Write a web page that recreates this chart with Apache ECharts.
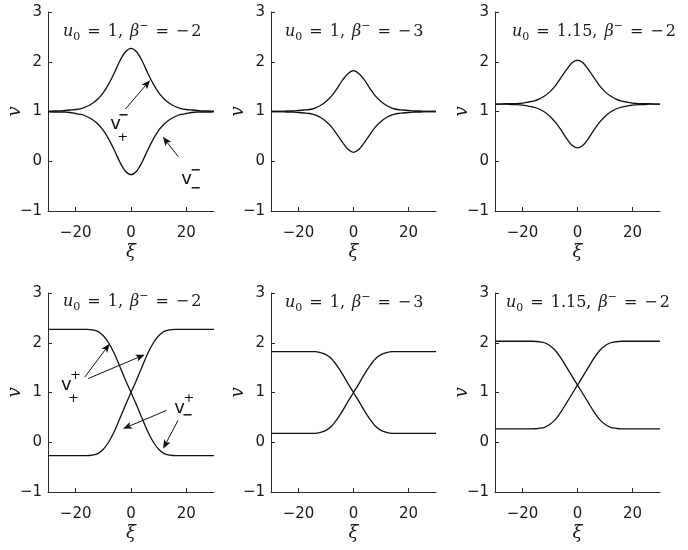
<!DOCTYPE html>
<html>
<head>
<meta charset="utf-8">
<script src="https://cdn.jsdelivr.net/npm/echarts@6/dist/echarts.min.js"></script>
<style>
  html, body { margin: 0; padding: 0; background: #ffffff; }
  #chart { width: 688px; height: 550px; }
</style>
</head>
<body>
<div id="chart"></div>
<script>
// Travelling coordinate ξ, sampled every 2 units
const xi = [-30,-28,-26,-24,-22,-20,-18,-16,-14,-12,-10,-8,-6,-4,-2,0,2,4,6,8,10,12,14,16,18,20,22,24,26,28,30];

// Top row: solitary bumps v+^- (upper) and v-^- (lower)
const bumpUpperA = [1.00,1.01,1.01,1.02,1.03,1.04,1.06,1.10,1.16,1.25,1.38,1.56,1.78,2.02,2.20,2.27,2.20,2.02,1.78,1.56,1.38,1.25,1.16,1.10,1.06,1.04,1.03,1.02,1.01,1.01,1.00];
const bumpLowerA = [1.00,0.99,0.99,0.99,0.98,0.96,0.94,0.90,0.84,0.75,0.62,0.44,0.22,-0.02,-0.20,-0.27,-0.20,-0.02,0.22,0.44,0.62,0.75,0.84,0.90,0.94,0.96,0.98,0.99,0.99,0.99,1.00];
const bumpUpperB = [1.00,1.00,1.00,1.01,1.01,1.02,1.03,1.04,1.07,1.12,1.20,1.31,1.46,1.63,1.76,1.82,1.76,1.63,1.46,1.31,1.20,1.12,1.07,1.04,1.03,1.02,1.01,1.01,1.00,1.00,1.00];
const bumpLowerB = [1.00,1.00,1.00,0.99,0.99,0.98,0.97,0.96,0.93,0.88,0.80,0.69,0.54,0.38,0.24,0.18,0.24,0.38,0.54,0.69,0.80,0.88,0.93,0.96,0.97,0.98,0.99,0.99,1.00,1.00,1.00];
const bumpUpperC = [1.15,1.15,1.16,1.16,1.16,1.17,1.19,1.21,1.25,1.31,1.40,1.52,1.68,1.84,1.98,2.03,1.98,1.84,1.68,1.52,1.40,1.31,1.25,1.21,1.19,1.17,1.16,1.16,1.16,1.15,1.15];
const bumpLowerC = [1.15,1.15,1.15,1.14,1.14,1.13,1.11,1.09,1.05,0.99,0.90,0.78,0.63,0.46,0.32,0.27,0.32,0.46,0.63,0.78,0.90,0.99,1.05,1.09,1.11,1.13,1.14,1.14,1.15,1.15,1.15];

// Bottom row: kinks v+^+ / v-^+ (falling and rising fronts)
const kinkFallA = [2.27,2.27,2.27,2.27,2.27,2.27,2.27,2.27,2.26,2.23,2.14,1.99,1.78,1.52,1.25,1.00,0.75,0.48,0.22,0.01,-0.14,-0.23,-0.26,-0.27,-0.27,-0.27,-0.27,-0.27,-0.27,-0.27,-0.27];
const kinkRiseA = [-0.27,-0.27,-0.27,-0.27,-0.27,-0.27,-0.27,-0.27,-0.26,-0.23,-0.14,0.01,0.22,0.48,0.75,1.00,1.25,1.52,1.78,1.99,2.14,2.23,2.26,2.27,2.27,2.27,2.27,2.27,2.27,2.27,2.27];
const kinkFallB = [1.82,1.82,1.82,1.82,1.82,1.82,1.82,1.82,1.82,1.80,1.76,1.68,1.54,1.37,1.18,1.00,0.82,0.63,0.46,0.32,0.24,0.20,0.18,0.18,0.18,0.18,0.18,0.18,0.18,0.18,0.18];
const kinkRiseB = [0.18,0.18,0.18,0.18,0.18,0.18,0.18,0.18,0.18,0.20,0.24,0.32,0.46,0.63,0.82,1.00,1.18,1.37,1.54,1.68,1.76,1.80,1.82,1.82,1.82,1.82,1.82,1.82,1.82,1.82,1.82];
const kinkFallC = [2.03,2.03,2.03,2.03,2.03,2.03,2.03,2.03,2.02,2.00,1.94,1.84,1.69,1.51,1.33,1.15,0.97,0.79,0.61,0.46,0.36,0.30,0.28,0.27,0.27,0.27,0.27,0.27,0.27,0.27,0.27];
const kinkRiseC = [0.27,0.27,0.27,0.27,0.27,0.27,0.27,0.27,0.28,0.30,0.36,0.46,0.61,0.79,0.97,1.15,1.33,1.51,1.69,1.84,1.94,2.00,2.02,2.03,2.03,2.03,2.03,2.03,2.03,2.03,2.03];

// Tick values and panel parameters
const xTickValues = [-20, 0, 20];
const yTickValues = [-1, 0, 1, 2, 3];
const u0Labels = ['1', '1', '1.15', '1', '1', '1.15'];
const betaLabels = ['−2', '−3', '−2', '−2', '−3', '−2'];

const firstCurves = [bumpUpperA, bumpUpperB, bumpUpperC, kinkFallA, kinkFallB, kinkFallC];
const secondCurves = [bumpLowerA, bumpLowerB, bumpLowerC, kinkRiseA, kinkRiseB, kinkRiseC];

// Panel layout (pixels)
const gridRects = [
  { left: 48,  top: 12,  width: 166, height: 199 },
  { left: 271, top: 12,  width: 165, height: 199 },
  { left: 495, top: 12,  width: 165, height: 199 },
  { left: 48,  top: 293, width: 166, height: 199 },
  { left: 271, top: 293, width: 165, height: 199 },
  { left: 495, top: 293, width: 165, height: 199 }
];
const titlePos = [[63, 32], [285, 32], [512, 32], [63, 302], [285, 303], [506, 303]];

const AXIS = '#2a2a2a';
const INK = '#111111';
const TEXT = '#1a1a1a';
const TICKFONT = 'DejaVu Sans';
const minusFmt = v => (v < 0 ? '−' + Math.abs(v) : String(v));

const grid = [], xAxis = [], yAxis = [], series = [];
gridRects.forEach((r, i) => {
  grid.push(Object.assign({ outerBoundsMode: 'none', containLabel: false }, r));
  xAxis.push({
    gridIndex: i, type: 'value', min: -30, max: 30,
    name: 'ξ', nameLocation: 'middle', nameGap: 32,
    nameTextStyle: { fontFamily: 'DejaVu Serif', fontStyle: 'italic', fontSize: 18, color: TEXT },
    axisLine: { show: true, onZero: false, lineStyle: { color: AXIS, width: 1 } },
    axisTick: { show: true, inside: true, length: 4, customValues: xTickValues, lineStyle: { color: AXIS } },
    axisLabel: { customValues: xTickValues, formatter: minusFmt, margin: 15,
                 fontFamily: TICKFONT, fontSize: 15, color: TEXT },
    splitLine: { show: false }
  });
  yAxis.push({
    gridIndex: i, type: 'value', min: -1, max: 3, interval: 1,
    axisLine: { show: true, onZero: false, lineStyle: { color: AXIS, width: 1 } },
    axisTick: { show: true, inside: true, length: 4, lineStyle: { color: AXIS } },
    axisLabel: { formatter: minusFmt, margin: 6, fontFamily: TICKFONT, fontSize: 15, color: TEXT },
    splitLine: { show: false }
  });
  [firstCurves[i], secondCurves[i]].forEach(vals => {
    series.push({
      type: 'line', xAxisIndex: i, yAxisIndex: i,
      data: xi.map((x, k) => [x, vals[k]]),
      symbol: 'none', smooth: 0.3, silent: true,
      lineStyle: { color: INK, width: 1.3 }
    });
  });
});

const chart = echarts.init(document.getElementById('chart'), null, { renderer: 'canvas' });
chart.setOption({ backgroundColor: '#ffffff', animation: false, grid, xAxis, yAxis, series });

// ---- overlays: y-axis names, panel headings, branch labels, arrows ----
const toPx = (g, p) => chart.convertToPixel({ gridIndex: g }, p);
const graphics = [];

// rotated "v" axis name beside each y axis
gridRects.forEach(r => {
  graphics.push({
    type: 'text', x: r.left - 33, y: r.top + r.height / 2, rotation: Math.PI / 2, silent: true,
    style: { text: 'v', font: 'italic 18px "DejaVu Serif"', fill: TEXT, align: 'center', verticalAlign: 'middle' }
  });
});

const serif = 'DejaVu Serif';
const titleRich = {
  i:  { fontFamily: serif, fontStyle: 'italic', fontSize: 16, lineHeight: 22, fill: TEXT },
  b:  { fontFamily: serif, fontStyle: 'italic', fontSize: 16, lineHeight: 22, padding: [0, 0, 0, 7], fill: TEXT },
  s:  { fontFamily: serif, fontSize: 11, lineHeight: 12, verticalAlign: 'bottom', fill: TEXT },
  p:  { fontFamily: serif, fontSize: 11, lineHeight: 12, verticalAlign: 'top', fill: TEXT },
  o:  { fontFamily: serif, fontSize: 16, lineHeight: 22, padding: [0, 7, 0, 7], fill: TEXT },
  m:  { fontFamily: serif, fontSize: 16, lineHeight: 22, padding: [0, 2, 0, 0], fill: TEXT },
  n:  { fontFamily: serif, fontSize: 16, lineHeight: 22, fill: TEXT }
};
titlePos.forEach((p, i) => {
  const beta = betaLabels[i];
  const betaText = beta.charAt(0) === '−' ? '{m|−}{n|' + beta.slice(1) + '}' : '{n|' + beta + '}';
  graphics.push({
    type: 'text', x: p[0], y: p[1], silent: true,
    style: {
      text: '{i|u}{s|0}{o|=}{n|' + u0Labels[i] + ',}{b|β}{p|−}{o|=}' + betaText,
      rich: titleRich, align: 'left', verticalAlign: 'middle', fill: TEXT
    }
  });
});

// Branch labels: v with stacked super/subscripts, in data coordinates
const branchLabels = [
  { g: 0, at: [-5.6, 0.74], sup: '−', sub: '+', supAt: [-2.6, 0.92], subAt: [-3.0, 0.47] },
  { g: 0, at: [20.1, -0.36], sup: '−', sub: '−', supAt: [23.5, -0.18], subAt: [23.5, -0.55] },
  { g: 3, at: [-23.4, 1.14], sup: '+', sub: '+', supAt: [-20.1, 1.33], subAt: [-20.8, 0.88] },
  { g: 3, at: [17.6, 0.68], sup: '+', sub: '−', supAt: [20.9, 0.88], subAt: [20.5, 0.53] }
];
branchLabels.forEach(l => {
  const c = toPx(l.g, l.at), sp = toPx(l.g, l.supAt), sb = toPx(l.g, l.subAt);
  graphics.push({ type: 'text', x: c[0], y: c[1], silent: true,
    style: { text: 'v', font: '18px "DejaVu Sans"', fill: INK, align: 'center', verticalAlign: 'middle' } });
  [[l.sup, sp], [l.sub, sb]].forEach(([t, q]) => {
    graphics.push({ type: 'text', x: q[0], y: q[1], silent: true,
      style: { text: t, font: (t === '−' ? 'bold ' : '') + '13px "DejaVu Sans"', fill: INK,
               align: 'center', verticalAlign: 'middle' } });
  });
});

// Arrows from labels to curves: [grid, tail, tip]
const arrows = [
  [0, [-2.0, 1.05], [6.9, 1.63]],
  [0, [17.1, 0.09], [11.5, 0.49]],
  [3, [-16.7, 1.31], [-7.7, 1.98]],
  [3, [-15.5, 1.28], [4.95, 1.76]],
  [3, [12.8, 0.64], [-2.9, 0.27]],
  [3, [17.0, 0.44], [11.6, -0.13]]
];
arrows.forEach(([g, from, to]) => {
  const [x1, y1] = toPx(g, from), [x2, y2] = toPx(g, to);
  const dx = x2 - x1, dy = y2 - y1, L = Math.hypot(dx, dy);
  const ux = dx / L, uy = dy / L, nx = -uy, ny = ux;
  const hl = 9, hw = 3.6, notch = 2;
  const bx = x2 - ux * hl, by = y2 - uy * hl;
  const kx = x2 - ux * (hl - notch), ky = y2 - uy * (hl - notch);
  graphics.push({ type: 'line', silent: true,
    shape: { x1: x1, y1: y1, x2: kx, y2: ky }, style: { stroke: INK, lineWidth: 1 } });
  graphics.push({ type: 'polygon', silent: true,
    shape: { points: [[x2, y2], [bx + nx * hw, by + ny * hw], [kx, ky], [bx - nx * hw, by - ny * hw]] },
    style: { fill: INK } });
});

chart.setOption({ graphic: graphics });
</script>
</body>
</html>
